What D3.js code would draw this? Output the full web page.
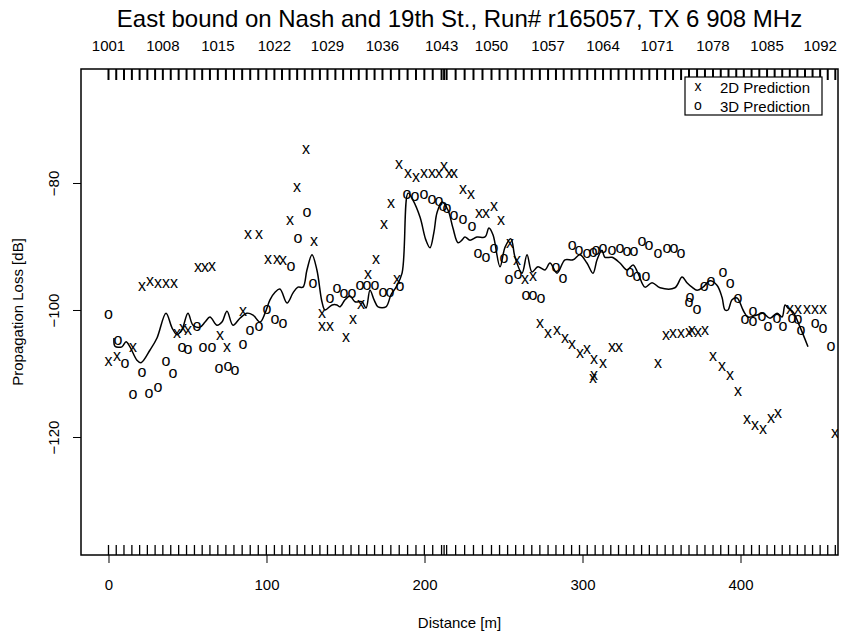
<!DOCTYPE html>
<html>
<head>
<meta charset="utf-8">
<script src="https://cdn.jsdelivr.net/npm/d3@7/dist/d3.min.js"></script>
<style>
  body { margin: 0; background: #fff; }
  text { font-family: "Liberation Sans", Arial, Helvetica, sans-serif; fill: #000; }
</style>
</head>
<body>
<svg width="841" height="633"></svg>
<script>
// 2D prediction (x markers)
var dist2D = [0,5.4,15.5,21.2,26.3,31.3,36.4,41.5,43.4,47.2,50.3,56.6,61.1,65.5,70.6,75.0,85.1,88.3,95.3,100.9,
  106.6,110.4,114.9,119.3,125.0,130.1,135.1,135.1,140.2,150.3,154.7,159.8,164.2,169.3,174.4,178.8,183.9,182.6,
  189.6,194.6,199.7,204.7,209.2,212.3,215.5,218.7,224.4,229.4,234.5,238.9,244.0,248.4,254.1,258.5,263.6,268.7,
  273.1,278.2,283.9,288.9,293.4,298.4,302.8,307.3,313.0,307.3,306.7,318.7,323.1,347.8,352.8,357.3,362.3,367.4,
  369.3,373.1,377.5,382.6,388.3,393.4,398.4,404.1,409.2,414.2,419.3,423.7,431.3,436.4,442.1,447.2,452.2,459.8];
var loss2D = [-108.0,-107.1,-105.8,-96.1,-95.4,-95.7,-95.7,-95.7,-103.5,-102.8,-103.1,-93.2,-93.2,-92.9,-103.9,-105.8,-100.0,-87.9,-87.9,-91.8,
  -91.8,-92.1,-85.8,-80.5,-74.5,-89.0,-100.3,-102.4,-102.4,-104.1,-101.3,-98.9,-94.3,-91.8,-86.3,-83.0,-76.9,-95.0,
  -78.3,-78.9,-78.3,-78.3,-78.3,-77.2,-78.4,-78.4,-80.9,-81.6,-84.7,-84.7,-83.6,-85.8,-89.3,-92.0,-95.0,-94.5,
  -101.9,-103.6,-103.1,-104.3,-105.2,-106.6,-106.1,-107.6,-108.3,-110.1,-110.6,-105.8,-105.8,-108.3,-103.9,-103.6,-103.6,-103.4,
  -103.0,-103.4,-103.1,-107.1,-108.8,-110.2,-112.6,-117.1,-118.0,-118.6,-116.9,-116.1,-99.7,-99.7,-99.8,-99.8,-99.8,-119.2];

// 3D prediction (o markers)
var dist3D = [0,6.0,10.4,15.5,21.2,25.6,31.3,36.4,40.8,46.5,50.3,56.0,59.8,65.5,69.9,75.6,80.1,85.1,89.6,95.3,
  100.3,105.4,110.4,115.5,119.9,125.6,129.4,140.2,144.6,149.1,154.1,159.2,163.6,168.7,173.7,178.2,184.5,188.9,
  194.0,199.7,204.7,209.2,211.7,214.2,218.7,224.4,230.1,233.9,238.9,244.0,250.3,253.5,259.2,264.2,268.7,273.7,
  283.2,287.7,293.4,297.8,302.8,306.7,308.5,313.0,318.7,323.7,328.2,332.6,337.7,342.1,347.8,353.5,357.9,362.3,
  330.1,334.5,340.2,368.0,367.4,372.5,377.0,381.3,388.9,393.4,398.4,402.8,407.9,407.9,413.6,417.4,423.1,426.9,
  432.6,436.4,438.3,447.2,452.2,457.3];
var loss3D = [-100.5,-104.6,-108.3,-113.1,-109.6,-112.9,-112.1,-108.0,-109.8,-105.8,-106.0,-102.4,-105.8,-105.7,-109.0,-108.7,-109.3,-105.2,-103.0,-102.5,
  -99.7,-101.4,-102.0,-92.9,-88.5,-84.4,-95.7,-98.0,-96.4,-97.2,-97.2,-95.9,-95.9,-95.9,-97.0,-97.0,-96.2,-81.6,
  -81.9,-81.7,-82.4,-82.8,-83.5,-83.9,-84.9,-85.5,-86.6,-90.9,-91.5,-90.2,-91.7,-95.1,-94.2,-97.6,-97.6,-98.0,
  -93.2,-94.8,-89.6,-90.4,-91.0,-90.7,-90.4,-90.2,-90.4,-90.2,-90.6,-90.6,-89.1,-89.6,-90.9,-90.1,-90.2,-91.0,
  -94.0,-94.5,-94.5,-97.8,-98.6,-99.7,-96.2,-95.4,-94.0,-95.6,-98.0,-101.3,-100.0,-101.7,-100.9,-102.5,-101.1,-102.5,
  -101.1,-101.3,-103.1,-101.9,-102.8,-105.5];

// measured loss (solid line)
var distMeas = [3.5,4.1,8.5,11.1,13.6,18.0,20.6,26.3,30.7,36.4,40.2,43.4,46.5,50.3,53.5,57.9,61.1,64.2,68.7,71.8,
  75.0,78.8,83.2,87.7,91.5,95.9,99.1,102.2,105.4,108.5,113.0,116.8,119.9,123.1,125.6,128.8,131.9,135.1,137.0,141.5,
  144.6,146.5,149.7,152.8,156.0,160.4,163.0,165.5,168.1,170.6,175.6,178.8,182.0,185.8,189.6,192.7,197.2,200.9,203.5,206.0,
  207.9,211.1,214.9,218.0,221.2,223.7,225.6,228.8,233.2,238.3,240.8,243.4,247.8,251.0,254.7,257.3,261.7,264.9,268.0,271.8,
  276.3,279.4,283.9,288.9,294.0,298.4,302.8,306.6,309.2,312.3,314.2,318.7,323.7,328.2,332.0,335.1,339.6,344.0,349.1,358.5,
  363.0,366.1,369.3,372.5,376.3,380.7,385.1,388.3,390.2,392.1,394.6,397.8,401.6,404.7,410.4,414.2,418.7,423.1,426.3,428.2,
  430.1,433.2,437.7,442.7];
var lossMeas = [-104.4,-105.7,-105.8,-105.0,-105.8,-107.9,-108.3,-106.3,-104.4,-100.5,-102.8,-103.9,-103.1,-100.5,-102.4,-102.7,-101.9,-101.1,-102.4,-101.9,
  -100.2,-102.4,-101.3,-100.5,-100.8,-101.9,-100.5,-98.4,-97.2,-96.7,-98.9,-97.3,-96.4,-96.4,-93.7,-91.3,-93.7,-98.7,-100.0,-99.2,
  -99.2,-99.5,-98.4,-97.8,-98.7,-98.7,-99.7,-96.9,-98.4,-99.5,-99.5,-97.6,-96.4,-94.2,-81.6,-82.7,-85.4,-89.0,-90.2,-87.7,
  -84.7,-83.0,-84.3,-87.1,-89.4,-89.0,-88.5,-89.0,-88.5,-88.5,-87.1,-88.2,-93.2,-90.1,-88.8,-91.7,-94.2,-91.3,-94.0,-93.2,
  -93.7,-92.6,-94.2,-92.1,-92.1,-91.3,-92.6,-94.2,-92.1,-90.6,-91.7,-91.7,-92.6,-93.7,-92.9,-94.2,-96.4,-95.7,-96.5,-96.5,
  -94.8,-95.7,-96.4,-96.9,-96.4,-95.4,-96.1,-98.0,-100.0,-100.0,-98.4,-98.1,-100.0,-101.1,-100.8,-100.5,-101.3,-100.5,-101.1,-99.2,
  -99.7,-100.3,-102.7,-105.8];

// measurement point positions (rug) and point ids shown on top
var rugDist = [0,4.9,9.8,14.8,19.7,24.6,29.5,34.4,39.4,44.4,49.4,54.4,59.3,64.2,69.2,74.3,79.4,84.6,89.7,94.8,
  99.9,105.0,109.8,114.6,119.4,124.2,129.0,133.8,138.6,143.6,148.5,153.5,158.4,163.4,168.4,173.4,178.7,184.0,189.3,194.6,
  199.9,205.2,210.8,212.4,214.0,219.7,225.4,231.0,236.7,242.4,247.5,252.6,257.7,262.8,267.9,273.0,278.2,283.2,288.1,293.1,
  298.1,303.0,308.0,313.0,317.9,322.8,327.7,332.5,337.4,342.3,347.2,352.3,357.3,362.4,367.4,372.5,377.5,382.6,387.5,392.4,
  397.3,402.1,407.0,411.9,416.8,421.6,426.4,431.2,436.0,440.8,445.6,450.4,455.2,460.0];
var topIds = ["1001","1008","1015","1022","1029","1036","1043","1050","1057","1064","1071","1078","1085","1092"];
var topDist = [0,34.4,69.2,105.0,138.6,173.4,210.8,242.4,278.2,313.0,347.2,382.6,416.8,450.4];

var xTicks = [0,100,200,300,400];
var yTicks = [-80,-100,-120];

var svg = d3.select("svg");
var pL = 81, pR = 838, pT = 69, pB = 555;

var x = d3.scaleLinear().domain([-17.4, 461.7]).range([pL, pR]);
var y = d3.scaleLinear().domain([-138.58, -62.05]).range([pB, pT]);

svg.append("defs").append("clipPath").attr("id", "plotclip")
  .append("rect").attr("x", pL).attr("y", pT).attr("width", pR - pL).attr("height", pB - pT);

// title
svg.append("text").attr("x", (pL + pR) / 2).attr("y", 27)
  .attr("text-anchor", "middle").style("font-size", "24px")
  .text("East bound on Nash and 19th St., Run# r165057, TX 6 908 MHz");

// bottom axis
var xAxis = svg.append("g").attr("transform", "translate(0," + pB + ")")
  .call(d3.axisBottom(x).tickValues(xTicks).tickSize(8).tickPadding(16).tickFormat(d3.format("d")));
xAxis.select(".domain").remove();
xAxis.selectAll("line").attr("stroke", "#000");
xAxis.selectAll("text").style("font-size", "15px").style("font-family", "Liberation Sans, Arial, sans-serif");

// left axis
var yAxis = svg.append("g").attr("transform", "translate(" + pL + ",0)")
  .call(d3.axisLeft(y).tickValues(yTicks).tickSize(8).tickFormat(d3.format("d")));
yAxis.select(".domain").remove();
yAxis.selectAll("line").attr("stroke", "#000");
yAxis.selectAll("text")
  .attr("x", 0).attr("y", 0).attr("dy", null)
  .attr("transform", "translate(-22,0) rotate(-90)")
  .attr("text-anchor", "middle")
  .style("font-size", "15px").style("font-family", "Liberation Sans, Arial, sans-serif");

// axis titles
svg.append("text").attr("x", (pL + pR) / 2).attr("y", 628)
  .attr("text-anchor", "middle").style("font-size", "15px").text("Distance [m]");
svg.append("text").attr("transform", "translate(23," + (pT + pB) / 2 + ") rotate(-90)")
  .attr("text-anchor", "middle").style("font-size", "15px").text("Propagation Loss [dB]");

// top point id labels
svg.append("g").selectAll("text").data(topIds).enter().append("text")
  .attr("x", function(d, i) { return x(topDist[i]); })
  .attr("y", 51)
  .attr("text-anchor", "middle").style("font-size", "15px")
  .text(function(d) { return d; });

var plot = svg.append("g").attr("clip-path", "url(#plotclip)");

// rugs
plot.append("g").selectAll("line").data(rugDist).enter().append("line")
  .attr("x1", function(d) { return x(d); }).attr("x2", function(d) { return x(d); })
  .attr("y1", pT).attr("y2", pT + 11)
  .attr("stroke", "#000").attr("stroke-width", 2);
plot.append("g").selectAll("line").data(rugDist).enter().append("line")
  .attr("x1", function(d) { return x(d); }).attr("x2", function(d) { return x(d); })
  .attr("y1", pB).attr("y2", pB - 10)
  .attr("stroke", "#000").attr("stroke-width", 1.3);

// measured line
var line = d3.line()
  .x(function(d) { return x(d[0]); })
  .y(function(d) { return y(d[1]); })
  .curve(d3.curveCatmullRom.alpha(0.5));
plot.append("path")
  .datum(d3.zip(distMeas, lossMeas))
  .attr("d", line)
  .attr("fill", "none").attr("stroke", "#000").attr("stroke-width", 1.5);

// markers
plot.append("g").selectAll("text").data(d3.zip(dist2D, loss2D)).enter().append("text")
  .attr("x", function(d) { return x(d[0]); })
  .attr("y", function(d) { return y(d[1]); })
  .attr("dy", "0.35em").attr("text-anchor", "middle").style("font-size", "16px")
  .text("x");
plot.append("g").selectAll("text").data(d3.zip(dist3D, loss3D)).enter().append("text")
  .attr("x", function(d) { return x(d[0]); })
  .attr("y", function(d) { return y(d[1]); })
  .attr("dy", "0.35em").attr("text-anchor", "middle").style("font-size", "16px")
  .text("o");

// legend
var lg = svg.append("g").attr("transform", "translate(685,77)");
lg.append("rect").attr("width", 137).attr("height", 38)
  .attr("fill", "#fff").attr("stroke", "#000").attr("stroke-width", 1.2);
lg.append("text").attr("x", 13).attr("y", 14).attr("text-anchor", "middle").style("font-size", "14px").text("x");
lg.append("text").attr("x", 13).attr("y", 33).attr("text-anchor", "middle").style("font-size", "14px").text("o");
lg.append("text").attr("x", 35).attr("y", 16).style("font-size", "15px").text("2D Prediction");
lg.append("text").attr("x", 35).attr("y", 35).style("font-size", "15px").text("3D Prediction");

// box
svg.append("rect").attr("x", pL).attr("y", pT).attr("width", pR - pL).attr("height", pB - pT)
  .attr("fill", "none").attr("stroke", "#000").attr("stroke-width", 1.5);
</script>
</body>
</html>
